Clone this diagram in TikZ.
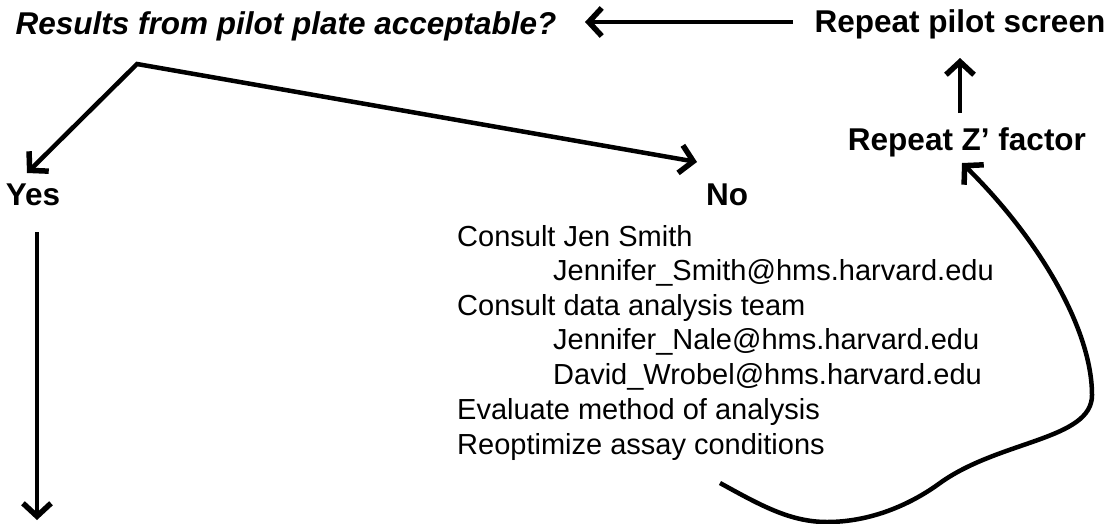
\documentclass[tikz,border=0pt]{standalone}
\usepackage{fontspec}
\setmainfont{Liberation Sans}
\usetikzlibrary{arrows.meta}
\begin{document}
\begin{tikzpicture}[x=1pt,y=-1pt,
  arr/.style={line width=4.5pt, -{Straight Barb[length=13pt,width=28pt,line width=5.5pt]}},
  arr2/.style={line width=4.5pt, {Straight Barb[length=13pt,width=28pt,line width=5.5pt]}-{Straight Barb[length=13pt,width=28pt,line width=5.5pt]}},
  boldtxt/.style={font=\fontsize{31.5}{37}\selectfont\bfseries, inner sep=0pt, anchor=base},
  bodytxt/.style={font=\fontsize{29}{35}\selectfont, inner sep=0pt, anchor=base west}]
\useasboundingbox (0,0) rectangle (1114,523);
% headings
\node[boldtxt, font=\fontsize{31.5}{37}\selectfont\bfseries\itshape] (q) at (286,34) {Results from pilot plate acceptable?};
\node[boldtxt] (rps) at (960,32) {Repeat pilot screen};
\node[boldtxt] (rz) at (967,150) {Repeat Z’ factor};
\node[boldtxt] (yes) at (33,205) {Yes};
\node[boldtxt] (no) at (727,205) {No};
% list under No
\node[bodytxt] (l1) at (457,246) {Consult Jen Smith};
\node[bodytxt] (l2) at (553,280.5) {Jennifer\_Smith@hms.harvard.edu};
\node[bodytxt] (l3) at (457,315) {Consult data analysis team};
\node[bodytxt] (l4) at (553,349.5) {Jennifer\_Nale@hms.harvard.edu};
\node[bodytxt] (l5) at (553,384) {David\_Wrobel@hms.harvard.edu};
\node[bodytxt] (l6) at (457,419) {Evaluate method of analysis};
\node[bodytxt] (l7) at (457,454) {Reoptimize assay conditions};
% connector end points
\coordinate (rpsL) at (793,22);
\coordinate (qR) at (585,22);
\coordinate (rzT) at (960,113);
\coordinate (rpsB) at (960,58);
\coordinate (v) at (137,64);
\coordinate (yesT) at (27,173);
\coordinate (noT) at (697,162);
\coordinate (yesB) at (37,232);
\coordinate (down) at (37,520);
\coordinate (cs) at (720,483);
\coordinate (rzB) at (962,163);
% connectors
\draw[arr] (rpsL) -- (qR);
\draw[arr] (rzT) -- (rpsB);
\draw[arr2] (yesT) -- (v) -- (noT);
\draw[arr] (yesB) -- (down);
\draw[arr] (cs) .. controls (760,505) and (790,522) .. (827,522)
  .. controls (870,522) and (910,505) .. (940,483)
  .. controls (1000,440) and (1092,440) .. (1092,395)
  .. controls (1092,330) and (1040,240) .. (rzB);
\end{tikzpicture}
\end{document}
